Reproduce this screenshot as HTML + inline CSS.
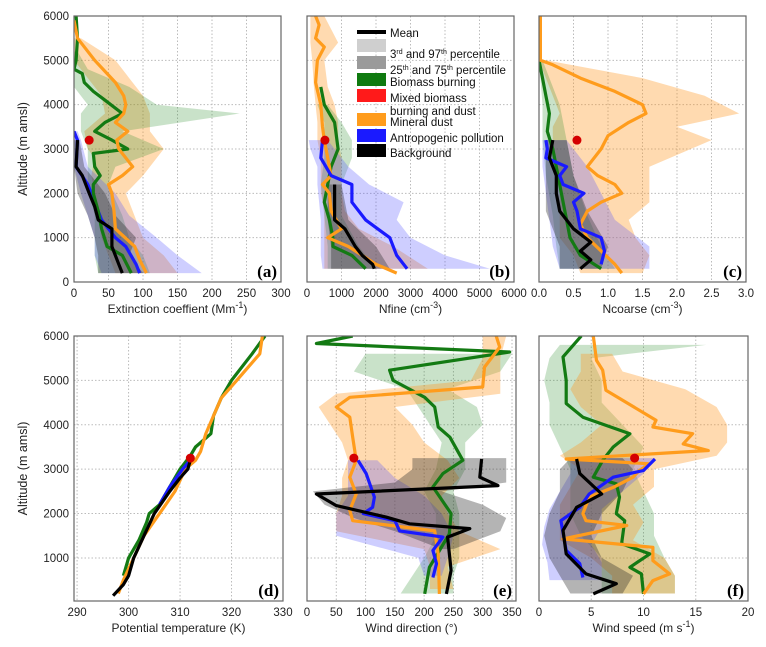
<!DOCTYPE html>
<html><head><meta charset="utf-8"><style>
body{margin:0;background:#fff;}
svg text{font-family:"Liberation Sans","DejaVu Sans",sans-serif;}
</style></head><body>
<svg id="chart" width="766" height="642" viewBox="0 0 766 642" xmlns="http://www.w3.org/2000/svg"></svg>
<script>
// ---------- Panel (a) Extinction ----------
const aOrAlt=[200,500,800,1200,1600,2000,2200,2400,2600,3000,3200,3400,3600,3800,4000,4200,4500,5000,5500,5900];
const aOrVal=[105,95,88,60,58,55,50,70,85,65,62,78,60,72,75,72,60,30,5,0];
const aGrAlt=[200,600,800,1200,1600,2000,2200,2400,2600,2900,3000,3200,3400,3600,3800,4100,4300,4500,4700,4800,5000,5500,6000];
const aGrVal=[83,70,48,40,35,28,28,38,30,28,78,55,30,45,70,45,28,15,12,0,3,5,3];
const aBlAlt=[200,400,800,1000,1400,1800,2200,2600,3200,3400];
const aBlVal=[95,90,75,60,40,30,20,3,5,0];
const aBkAlt=[200,400,800,1200,1400,1700,2000,2400,2600,3200];
const aBkVal=[70,65,55,55,35,30,22,12,3,5];
const aOrBandAlt=[200,600,1000,1400,2000,2400,2800,3000,3400,3800,4200,4600,5000,5500];
const aOrBandLo=[60,50,40,35,30,25,30,20,15,45,40,20,0,0];
const aOrBandHi=[150,130,100,90,75,100,120,130,110,110,100,80,60,10];
const aGrBandAlt=[200,600,1000,1500,2200,2600,3000,3400,3800,4000,4400,4800,5200];
const aGrBandLo=[35,30,30,30,20,20,20,10,10,20,0,0,0];
const aGrBandHi=[110,100,80,70,50,60,130,70,240,120,80,20,5];
const aBlBandAlt=[200,600,1000,1500,2000,2600,3200,3400];
const aBlBandLo=[40,30,30,20,10,0,0,0];
const aBlBandHi=[185,150,120,80,60,20,10,5];
const aBkBandAlt=[200,600,1000,1500,2000,2600,3200];
const aBkBandLo=[35,35,30,20,5,0,0];
const aBkBandHi=[100,80,90,60,45,15,8];
const aDot=[22,3200];
const aTicks=[0,50,100,150,200,250,300];
const aTickLabels=['0','50','100','150','200','250','300'];
// ---------- Panel (b) Nfine ----------
const bOrAlt=[200,400,800,1000,1200,1600,2000,2200,2400,2800,3200,3500,4000,4500,5000,5300,5500,5800,6000];
const bOrVal=[2600,2000,1200,600,1000,700,650,450,700,600,500,450,400,250,300,500,250,350,250];
const bGrAlt=[300,600,800,1000,1400,1800,2200,2600,3000,3600,4000,4400];
const bGrVal=[1700,1300,750,750,650,500,600,700,900,800,500,400];
const bBlAlt=[300,400,600,1000,1400,1800,2200,2400,2800,3200];
const bBlVal=[2900,2800,2600,2400,1700,1300,1300,700,400,450];
const bBkAlt=[300,400,600,800,1200,1400,1800,2200];
const bBkVal=[1950,1900,1600,1400,1100,800,800,800];
const bOrBandAlt=[300,800,1200,1600,2000,2400,2800,3200,3600,4000,4400,5000,5400,6000];
const bOrBandLo=[500,500,500,500,400,400,400,300,300,250,200,150,100,100];
const bOrBandHi=[3500,2500,1500,1100,1000,1000,1000,900,900,800,600,500,900,500];
const bGrBandAlt=[300,800,1500,2200,2800,3200,3600,4000];
const bGrBandLo=[600,600,500,400,500,500,500,300];
const bGrBandHi=[2000,1500,1000,1000,1300,1300,1000,600];
const bBlBandAlt=[300,600,1000,1400,1800,2200,2600,3000,3200];
const bBlBandLo=[450,400,400,400,350,300,300,100,50];
const bBlBandHi=[5300,4000,3000,2600,2800,1800,1200,800,600];
const bBkBandAlt=[300,800,1400,2200];
const bBkBandLo=[700,700,600,600];
const bBkBandHi=[2400,2000,1200,1000];
const bDot=[520,3200];
const bTicks=[0,1000,2000,3000,4000,5000,6000];
const bTickLabels=['0','1000','2000','3000','4000','5000','6000'];
// ---------- Panel (c) Ncoarse ----------
const cOrAlt=[200,400,700,1000,1300,1600,1800,2000,2200,2400,2600,3000,3300,3600,3800,4000,4300,4600,4900,5000,6000];
const cOrVal=[1.2,1.1,0.9,0.7,0.6,0.7,0.9,1.2,1.1,0.85,0.7,0.9,1.0,1.3,1.55,1.5,1.1,0.6,0.2,0.02,0.02];
const cGrAlt=[300,600,1000,1400,1800,2200,2600,3000,3400,3800,4200,4600,5000];
const cGrVal=[0.9,0.6,0.45,0.4,0.35,0.3,0.25,0.2,0.12,0.15,0.1,0.05,0.0];
const cBlAlt=[400,700,1000,1200,1600,1800,2000,2200,2400,2600,2800,3000,3200];
const cBlVal=[0.9,0.95,0.9,0.6,0.55,0.5,0.65,0.35,0.3,0.4,0.1,0.12,0.1];
const cBkAlt=[300,500,700,900,1200,1600,2000,2400,2800,3200];
const cBkVal=[0.6,0.75,0.6,0.75,0.5,0.3,0.25,0.25,0.15,0.2];
const cOrBandAlt=[200,600,1000,1400,1800,2200,2600,3000,3200,3500,3800,4200,4600,5000];
const cOrBandLo=[0.6,0.5,0.3,0.3,0.3,0.3,0.2,0.2,0.2,0.2,0.3,0.2,0.1,0];
const cOrBandHi=[1.5,1.6,1.4,1.3,1.6,1.6,1.6,2.2,2.5,2.0,2.9,2.4,1.5,0.1];
const cGrBandAlt=[300,800,1500,2400,3200,4000,5000];
const cGrBandLo=[0.3,0.25,0.2,0.1,0.05,0.05,0];
const cGrBandHi=[1.1,0.9,0.7,0.5,0.4,0.3,0.05];
const cBlBandAlt=[300,800,1400,2000,2600,3200];
const cBlBandLo=[0.3,0.2,0.15,0.1,0.05,0.05];
const cBlBandHi=[1.6,1.6,1.1,0.9,0.7,0.4];
const cBkBandAlt=[300,800,1600,2400,3200];
const cBkBandLo=[0.3,0.3,0.1,0.1,0.1];
const cBkBandHi=[0.9,1.0,0.7,0.5,0.4];
const cDot=[0.55,3200];
const cTicks=[0,0.5,1,1.5,2,2.5,3];
const cTickLabels=['0.0','0.5','1.0','1.5','2.0','2.5','3.0'];
// ---------- Panel (d) Potential temperature ----------
const dOrAlt=[200,500,1000,1500,2000,2500,3000,3200,3400,3800,4200,4600,5000,5600,6000];
const dOrVal=[298,299,301,303,306,309,311,313,314,315,316.5,318,321,325.5,326];
const dGrAlt=[600,800,1000,1400,1800,2000,2200,2600,3000,3300,3500,3800,4200,4600,5000,5600,6000];
const dGrVal=[299,299.5,300,302,303.5,304,306,308,310,312,313,316,316.5,318,320,324,326.5];
const dBlAlt=[2200,2600,3000,3200];
const dBlVal=[306,308,310.5,312];
const dBkAlt=[150,400,600,1000,1500,2000,2500,2800,3000,3200];
const dBkVal=[297,299,300,301,303,305,308,310,311.5,312];
const dDot=[312,3250];
const dTicks=[290,300,310,320,330];
const dTickLabels=['290','300','310','320','330'];
// ---------- Panel (e) Wind direction ----------
const eGrAlt=[190,790,1540,2000,2600,2900,3200,3720,3950,4400,4620,5000,5230,5640,5830,6000];
const eGrVal=[201,209,243,246,215,232,266,244,224,218,201,147,141,346,16,78];
const eOrAlt=[190,1090,1610,1840,2070,2440,2820,3200,3720,4170,4400,4620,4850,5300,5750,6000];
const eOrVal=[226,224,218,78,73,84,73,84,78,73,50,73,300,303,329,323];
const eBlAlt=[560,870,1170,1470,1610,1840,2000,2140,2370,2900,3200];
const eBlVal=[215,221,215,232,158,150,96,112,115,101,87];
const eBkAlt=[190,720,1470,1660,1770,1920,2180,2440,2630,2820,3230];
const eBkVal=[238,246,240,278,175,135,50,16,326,295,298];
const eOrBandAlt=[300,800,1200,1600,2000,2400,2800,3200,3600,4000,4400,4700,5000,5500,6000];
const eOrBandLo=[210,210,200,50,50,60,60,70,60,40,20,50,280,300,300];
const eOrBandHi=[250,240,330,260,240,230,260,240,200,180,150,330,330,330,340];
const eGrBandAlt=[200,600,1000,1500,2000,2500,3000,3600,4000,4400,4800,5200,5600];
const eGrBandLo=[160,180,200,220,220,200,220,230,210,190,170,80,100];
const eGrBandHi=[250,250,260,260,260,250,270,270,300,290,240,330,350];
const eBlBandAlt=[600,1000,1500,2000,2400,2800,3200];
const eBlBandLo=[200,190,50,50,70,70,70];
const eBlBandHi=[230,240,250,230,200,150,120];
const eBkBandAlt=[1200,1600,1900,2200,2500,2700,3000,3250];
const eBkBandLo=[230,150,80,30,10,150,180,180];
const eBkBandHi=[250,330,340,300,230,340,340,340];
const eDot=[80,3250];
const eTicks=[0,50,100,150,200,250,300,350];
const eTickLabels=['0','50','100','150','200','250','300','350'];
// ---------- Panel (f) Wind speed ----------
const fOrAlt=[190,490,640,940,1240,1430,1730,1840,2000,2370,2590,2820,2970,3120,3230,3420,3570,3800,3950,4100,4780,5230,5450,6000];
const fOrVal=[10,10.9,12.5,10.9,10.9,2.3,8.4,4.5,4.2,4.8,7.1,9.0,9.6,10.6,2.6,16.2,13.8,14.7,10.9,11.2,6.4,6.1,5.5,5.2];
const fGrAlt=[190,640,790,1090,1320,1840,2000,2370,2670,2820,3200,3500,3800,4170,4480,5000,5530,6000];
const fGrVal=[10,9.8,8.7,10.6,7.9,8.2,7.4,7.7,7.4,5.2,6.1,7.1,8.7,4.2,2.6,2.6,2.3,4.05];
const fBlAlt=[560,870,1170,1840,2140,2440,2820,2970,3230];
const fBlVal=[4.2,3.9,2.6,2.1,3.9,4.8,7.1,10,11.1];
const fBkAlt=[190,420,640,1090,1620,2140,2440,2900,3230];
const fBkVal=[5.2,7.4,4.5,2.6,2.3,3.6,6.0,3.9,3.6];
const fOrBandAlt=[200,600,1000,1400,1800,2200,2600,3000,3300,3600,4000,4400,4800,5200,5600];
const fOrBandLo=[7,7,5,2,2,2,3,4,2,4,6,4,3,4,4];
const fOrBandHi=[13,13,12,9,10,9,11,11,17,18,18,17,14,8,7];
const fGrBandAlt=[200,600,1000,1500,2000,2500,3000,3500,4000,4500,5000,5500,5800];
const fGrBandLo=[6,6,6,4,3,3,3,2,1,1,0.5,1,2];
const fGrBandHi=[13,13,12,11,11,10,9,10,8,6,6,5,16];
const fBlBandAlt=[500,900,1300,1700,2100,2500,2900,3250];
const fBlBandLo=[1,0.8,0.3,0.5,1,2,3,3];
const fBlBandHi=[6,6,5,6,6,8,10,11];
const fBkBandAlt=[200,600,1000,1500,2000,2500,3000,3250];
const fBkBandLo=[3,2,1,0.5,1,2,2,3];
const fBkBandHi=[8,9,6,5,6,8,9,8];
const fDot=[9.15,3250];
const fTicks=[0,5,10,15,20];
const fTickLabels=['0','5','10','15','20'];
// ---------- altitude ticks ----------
const topAltTicks=[0,1000,2000,3000,4000,5000,6000];
const botAltTicks=[1000,2000,3000,4000,5000,6000];

const NS='http://www.w3.org/2000/svg';
const svg=document.getElementById('chart');
function mk(tag,attrs,parent){const e=document.createElementNS(NS,tag);for(const k in attrs)e.setAttribute(k,attrs[k]);(parent||svg).appendChild(e);return e;}

const COL={or:'#ff9c1c',gr:'#137a13',bl:'#1a1aff',bk:'#000000'};
const BAND={or:'rgba(255,150,30,0.35)',gr:'rgba(40,140,40,0.25)',bl:'rgba(80,80,255,0.28)',bk:'rgba(40,40,40,0.35)'};

const panels=[
 {id:'a',x0:74,x1:281,y0:16,y1:282,xmin:0,xmax:300,ymin:0,ymax:6000,ticks:aTicks,labels:aTickLabels,altTicks:topAltTicks,yl:true,title:'Extinction coeffient (Mm',sup:'-1',tail:')',
  bands:[['or',aOrBandAlt,aOrBandLo,aOrBandHi],['gr',aGrBandAlt,aGrBandLo,aGrBandHi],['bl',aBlBandAlt,aBlBandLo,aBlBandHi],['bk',aBkBandAlt,aBkBandLo,aBkBandHi]],
  lines:[['bl',aBlAlt,aBlVal],['gr',aGrAlt,aGrVal],['or',aOrAlt,aOrVal],['bk',aBkAlt,aBkVal]],dot:aDot},
 {id:'b',x0:307,x1:514,y0:16,y1:282,xmin:0,xmax:6000,ymin:0,ymax:6000,ticks:bTicks,labels:bTickLabels,altTicks:topAltTicks,yl:false,title:'Nfine (cm',sup:'-3',tail:')',
  bands:[['or',bOrBandAlt,bOrBandLo,bOrBandHi],['gr',bGrBandAlt,bGrBandLo,bGrBandHi],['bl',bBlBandAlt,bBlBandLo,bBlBandHi],['bk',bBkBandAlt,bBkBandLo,bBkBandHi]],
  lines:[['gr',bGrAlt,bGrVal],['or',bOrAlt,bOrVal],['bl',bBlAlt,bBlVal],['bk',bBkAlt,bBkVal]],dot:bDot,legend:true},
 {id:'c',x0:539,x1:746,y0:16,y1:282,xmin:0,xmax:3,ymin:0,ymax:6000,ticks:cTicks,labels:cTickLabels,altTicks:topAltTicks,yl:false,title:'Ncoarse (cm',sup:'-3',tail:')',
  bands:[['or',cOrBandAlt,cOrBandLo,cOrBandHi],['gr',cGrBandAlt,cGrBandLo,cGrBandHi],['bl',cBlBandAlt,cBlBandLo,cBlBandHi],['bk',cBkBandAlt,cBkBandLo,cBkBandHi]],
  lines:[['gr',cGrAlt,cGrVal],['or',cOrAlt,cOrVal],['bl',cBlAlt,cBlVal],['bk',cBkAlt,cBkVal]],dot:cDot},
 {id:'d',x0:74,x1:283,y0:336,y1:601,xmin:289.4,xmax:330,ymin:30,ymax:6000,ticks:dTicks,labels:dTickLabels,altTicks:botAltTicks,yl:true,title:'Potential temperature (K)',
  bands:[],lines:[['gr',dGrAlt,dGrVal],['or',dOrAlt,dOrVal],['bl',dBlAlt,dBlVal],['bk',dBkAlt,dBkVal]],dot:dDot},
 {id:'e',x0:307,x1:516,y0:336,y1:601,xmin:0,xmax:356.8,ymin:30,ymax:6000,ticks:eTicks,labels:eTickLabels,altTicks:botAltTicks,yl:false,title:'Wind direction (°)',
  bands:[['gr',eGrBandAlt,eGrBandLo,eGrBandHi],['or',eOrBandAlt,eOrBandLo,eOrBandHi],['bl',eBlBandAlt,eBlBandLo,eBlBandHi],['bk',eBkBandAlt,eBkBandLo,eBkBandHi]],
  lines:[['gr',eGrAlt,eGrVal],['or',eOrAlt,eOrVal],['bl',eBlAlt,eBlVal],['bk',eBkAlt,eBkVal]],dot:eDot},
 {id:'f',x0:539,x1:748,y0:336,y1:601,xmin:0,xmax:20,ymin:30,ymax:6000,ticks:fTicks,labels:fTickLabels,altTicks:botAltTicks,yl:false,title:'Wind speed (m s',sup:'-1',tail:')',
  bands:[['gr',fGrBandAlt,fGrBandLo,fGrBandHi],['or',fOrBandAlt,fOrBandLo,fOrBandHi],['bl',fBlBandAlt,fBlBandLo,fBlBandHi],['bk',fBkBandAlt,fBkBandLo,fBkBandHi]],
  lines:[['gr',fGrAlt,fGrVal],['or',fOrAlt,fOrVal],['bl',fBlAlt,fBlVal],['bk',fBkAlt,fBkVal]],dot:fDot}
];
const NAMES={or:'mineral-dust',gr:'biomass-burning',bl:'anthropogenic-pollution',bk:'background'};

panels.forEach(p=>{
 const X=v=>p.x0+(v-p.xmin)/(p.xmax-p.xmin)*(p.x1-p.x0);
 const Y=a=>p.y1-(a-p.ymin)/(p.ymax-p.ymin)*(p.y1-p.y0);
 const g=mk('g',{});
 
 
 const clipId='clip'+p.id;
 const cp=mk('clipPath',{id:clipId},g);
 mk('rect',{x:p.x0,y:p.y0,width:p.x1-p.x0,height:p.y1-p.y0},cp);
 p.ticks.forEach(t=>{const x=X(t);if(x>p.x0+1&&x<p.x1-1){const l=mk('line',{x1:x,x2:x,y1:p.y0,y2:p.y1,stroke:'#bbb','stroke-dasharray':'1.5,2','stroke-width':1},g);}});
 p.altTicks.forEach(t=>{const y=Y(t);if(y>p.y0+1&&y<p.y1-1){const l=mk('line',{x1:p.x0,x2:p.x1,y1:y,y2:y,stroke:'#bbb','stroke-dasharray':'1.5,2','stroke-width':1},g);}});
 const data=mk('g',{'clip-path':'url(#'+clipId+')'},g);
 p.bands.forEach(b=>{
  const [c,alt,lo,hi]=b;
  const pts=[];
  for(let i=0;i<alt.length;i++)pts.push(X(hi[i]).toFixed(1)+','+Y(alt[i]).toFixed(1));
  for(let i=alt.length-1;i>=0;i--)pts.push(X(lo[i]).toFixed(1)+','+Y(alt[i]).toFixed(1));
  const poly=mk('polygon',{points:pts.join(' '),fill:BAND[c]},data);
  
  
 });
 p.lines.forEach(s=>{
  const [c,alt,val]=s;
  const pts=alt.map((a,i)=>X(val[i]).toFixed(1)+','+Y(a).toFixed(1)).join(' ');
  const pl=mk('polyline',{points:pts,fill:'none',stroke:COL[c],'stroke-width':3.2,'stroke-linejoin':'round'},data);
  
  
 });
 const dot=mk('circle',{cx:X(p.dot[0]),cy:Y(p.dot[1]),r:4.5,fill:'#d40000'},data);
 
 
 const fr=mk('rect',{x:p.x0,y:p.y0,width:p.x1-p.x0,height:p.y1-p.y0,fill:'none',stroke:'#666','stroke-width':1.2},g);
 
 
 p.ticks.forEach((t,i)=>{const tx=mk('text',{x:X(t),y:p.y1+15,'font-size':11.5,'text-anchor':'middle',fill:'#222'},g);tx.textContent=p.labels[i];
  });
 const tt=mk('text',{x:(p.x0+p.x1)/2,y:p.y1+31,'font-size':12,'text-anchor':'middle',fill:'#222'},g);
 tt.textContent=p.title;
 if(p.sup){const s=mk('tspan',{dy:-5,'font-size':9},tt);s.textContent=p.sup;const s2=mk('tspan',{dy:5},tt);s2.textContent=p.tail;}
 
 if(p.yl){
  p.altTicks.forEach(t=>{const ty=mk('text',{x:p.x0-5,y:Y(t)+4,'font-size':11.5,'text-anchor':'end',fill:'#222'},g);ty.textContent=String(t);
   });
  const cy=(p.y0+p.y1)/2;
  const yt=mk('text',{x:0,y:0,'font-size':12.5,'text-anchor':'middle',fill:'#222',transform:'translate(27,'+cy+') rotate(-90)'},g);
  yt.textContent='Altitude (m amsl)';
  
 }
 const lab=mk('text',{x:p.x1-4,y:p.y1-5,'font-size':17,'font-weight':'bold','text-anchor':'end',fill:'#000',style:'font-family:"Liberation Serif",serif'},g);
 lab.textContent='('+p.id+')';
 
 if(p.legend){
  const lg=mk('g',{},g);
  
  const bar=mk('rect',{x:357,y:30,width:29,height:4,fill:'#000'},lg);
  
  const items=[['#cfcfcf',39,53],['#9a9a9a',56,69],['#0f7a0f',73,81],['#ff1a1a',89,97],['#ff9c1c',113,121],['#1a1aff',129,137],['#000',144,152]];
  items.forEach(it=>{const r=mk('rect',{x:357,y:it[1],width:29,height:13,fill:it[0]},lg);});
  const texts=[[['Mean'],37],[['3','rd',' and 97','th',' percentile'],58],[['25','th',' and 75','th',' percentile'],74],[['Biomass burning'],86],[['Mixed biomass'],102],[['burning and dust'],115],[['Mineral dust'],126],[['Antropogenic pollution'],142],[['Background'],157]];
  texts.forEach(t=>{const tx=mk('text',{x:390,y:t[1],'font-size':11.5,fill:'#111'},lg);
   t[0].forEach((part,i)=>{const sp=mk('tspan',i%2===1?{'font-size':7,dy:-4}:(i>0?{dy:4}:{}),tx);sp.textContent=part;});
   });
 }
});
</script>
</body></html>
